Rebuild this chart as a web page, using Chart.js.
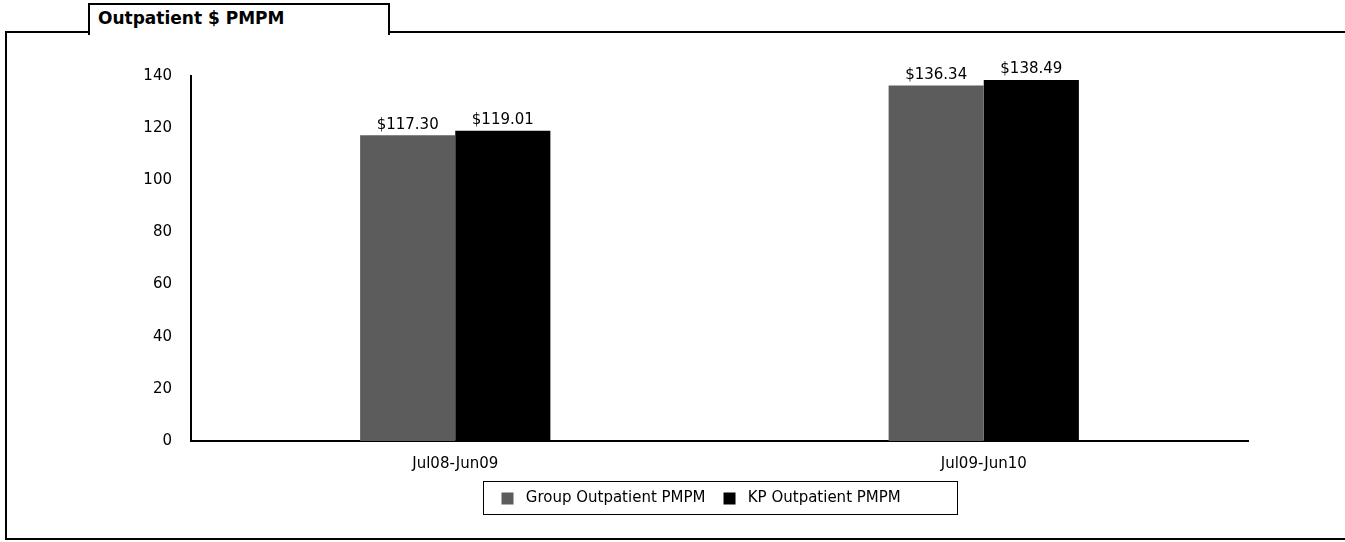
<!DOCTYPE html>
<html>
<head>
<meta charset="utf-8">
<script src="https://cdn.jsdelivr.net/npm/chart.js@4.4.1/dist/chart.umd.min.js"></script>
<style>
  html, body { margin: 0; padding: 0; background: #fff; }
  #wrap { position: relative; width: 1345px; height: 542px; overflow: hidden; }
  #frame { position: absolute; left: 5px; top: 31px; width: 1345px; height: 505px;
           border-left: 2px solid #000; border-top: 2px solid #000; border-bottom: 2px solid #000; }
  #tab { position: absolute; left: 88px; top: 3px; width: 298px; height: 30px;
         border: 2px solid #000; border-bottom: none; background: #fff;
         font: bold 17px "DejaVu Sans", sans-serif; z-index: 2; }
  #tab span { position: absolute; left: 8px; top: 3px; }
  canvas { position: absolute; left: 0; top: 0; z-index: 3; }
</style>
</head>
<body>
<div id="wrap">
  <div id="frame"></div>
  <div id="tab"><span>Outpatient $ PMPM</span></div>
  <canvas id="c" width="1345" height="542"></canvas>
</div>
<script>
// data
const periods = ["Jul08-Jun09", "Jul09-Jun10"];
const seriesNames = ["Group Outpatient PMPM", "KP Outpatient PMPM"];
const groupValues = [117.30, 136.34];
const kpValues = [119.01, 138.49];
const yTicks = [0, 20, 40, 60, 80, 100, 120, 140];

const FONT = "DejaVu Sans";

// value labels above bars
const valueLabels = {
    id: "valueLabels",
    afterDatasetsDraw(chart) {
        const ctx = chart.ctx;
        ctx.save();
        ctx.font = '15px "' + FONT + '", sans-serif';
        ctx.fillStyle = "#000";
        ctx.textAlign = "center";
        ctx.textBaseline = "bottom";
        chart.data.datasets.forEach((ds, i) => {
            chart.getDatasetMeta(i).data.forEach((bar, j) => {
                ctx.fillText("$" + ds.data[j].toFixed(2), bar.x, bar.y - 3);
            });
        });
        ctx.restore();
    }
};

// place the legend under the plot area and box it
const legendBox = {
    id: "legendBox",
    afterLayout(chart) {
        const lg = chart.legend;
        if (!lg) return;
        const mid = (chart.chartArea.left + chart.chartArea.right) / 2;
        lg.left = mid - 237 + 19 - lg.options.labels.padding;
        lg.right = chart.chartArea.right;
    },
    afterDraw(chart) {
        const lg = chart.legend;
        if (!lg || !lg.legendHitBoxes.length) return;
        const hb = lg.legendHitBoxes;
        const x1 = Math.round(hb[0].left - 19);
        const y1 = Math.round(hb[0].top - 10), y2 = Math.round(hb[0].top + hb[0].height + 8);
        const ctx = chart.ctx;
        ctx.save();
        ctx.strokeStyle = "#000";
        ctx.lineWidth = 1;
        ctx.strokeRect(x1 + 0.5, y1 + 0.5, 474, y2 - y1);
        ctx.restore();
    }
};

new Chart(document.getElementById("c"), {
    type: "bar",
    data: {
        labels: periods,
        datasets: [
            { label: seriesNames[0], data: groupValues, backgroundColor: "#5c5c5c",
              categoryPercentage: 0.36, barPercentage: 1.0 },
            { label: seriesNames[1], data: kpValues, backgroundColor: "#000",
              categoryPercentage: 0.36, barPercentage: 1.0 }
        ]
    },
    options: {
        responsive: false,
        animation: false,
        layout: { padding: { top: 76, right: 97, left: 0, bottom: 26 } },
        plugins: {
            tooltip: { enabled: false },
            legend: {
                position: "bottom",
                align: "start",
                labels: {
                    color: "#000",
                    font: { family: FONT, size: 15 },
                    boxWidth: 12, boxHeight: 12, padding: 18,
                    generateLabels: chart => {
                        const items = Chart.defaults.plugins.legend.labels.generateLabels(chart);
                        items.forEach(it => { it.text = " " + it.text; });
                        return items;
                    }
                }
            }
        },
        scales: {
            x: {
                grid: { display: false },
                border: { color: "#000", width: 2 },
                ticks: { color: "#000", font: { family: FONT, size: 15 }, padding: 6 },
                afterFit: s => { s.height = 32; }
            },
            y: {
                min: 0, max: 140,
                afterBuildTicks: s => { s.ticks = yTicks.map(v => ({ value: v })); },
                grid: { display: false },
                border: { color: "#000", width: 2 },
                ticks: { color: "#000", font: { family: FONT, size: 15 }, padding: 11 },
                afterFit: s => { s.width = 191; }
            }
        }
    },
    plugins: [valueLabels, legendBox]
});
</script>
</body>
</html>
